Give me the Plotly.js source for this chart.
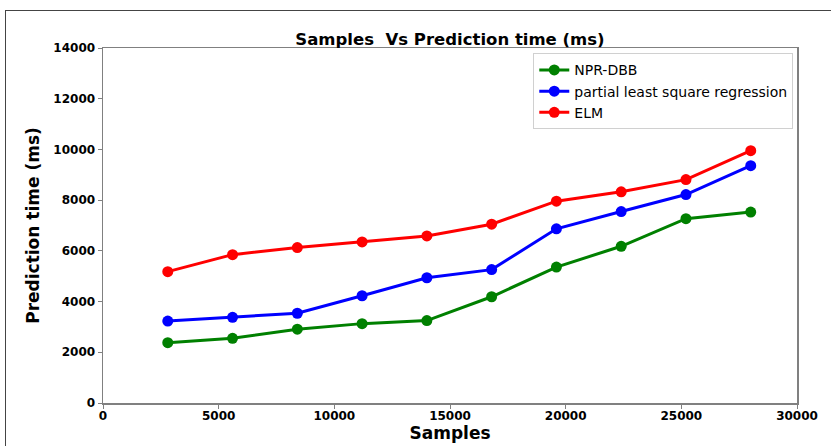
<!DOCTYPE html>
<html>
<head>
<meta charset="utf-8">
<script src="https://cdn.plot.ly/plotly-3.0.1.min.js"></script>
<style>
  html, body { margin: 0; padding: 0; background: #fff; }
  #wrap { position: relative; width: 831px; height: 446px; overflow: hidden; }
  #chart { width: 831px; height: 446px; }
  #frame { position: absolute; left: 5px; top: 10px; width: 900px; height: 600px;
           border: 1px solid #444; pointer-events: none; }
</style>
</head>
<body>
<div id="wrap">
  <div id="chart"></div>
  <div id="frame"></div>
</div>
<script>
const samples = [2800, 5600, 8400, 11200, 14000, 16800, 19600, 22400, 25200, 28000];
const nprDbb = [2380, 2550, 2910, 3130, 3250, 4190, 5360, 6180, 7270, 7530];
const pls = [3230, 3380, 3540, 4230, 4940, 5260, 6870, 7550, 8220, 9360];
const elm = [5180, 5850, 6130, 6350, 6590, 7050, 7960, 8330, 8810, 9950];
const seriesNames = ["NPR-DBB", "partial least square regression", "ELM"];
const xTicks = [0, 5000, 10000, 15000, 20000, 25000, 30000];
const yTicks = [0, 2000, 4000, 6000, 8000, 10000, 12000, 14000];

const colors = ["#008000", "#0000ff", "#ff0000"];
const ys = [nprDbb, pls, elm];
const traces = ys.map((y, i) => ({
  x: samples, y: y, name: seriesNames[i], type: "scatter", mode: "lines+markers",
  line: { color: colors[i], width: 3 },
  marker: { color: colors[i], size: 11 }
}));

const tickFont = { family: "DejaVu Sans", size: 12, color: "#000", weight: "bold" };
const layout = {
  width: 831, height: 446,
  margin: { l: 103, r: 34, t: 48, b: 43 },
  paper_bgcolor: "#fff", plot_bgcolor: "#fff",
  title: { text: "<b>Samples  Vs Prediction time (ms)</b>", x: 0.5, xref: "paper",
           y: 1, yref: "paper", yanchor: "bottom", pad: { b: 3 },
           font: { family: "DejaVu Sans", size: 16.5, color: "#000" } },
  xaxis: {
    range: [0, 30000], tickvals: xTicks, ticktext: xTicks.map(String),
    showgrid: false, zeroline: false, showline: true, mirror: true,
    linecolor: "#808080", linewidth: 1.5, ticks: "outside", ticklen: 4, tickcolor: "#808080",
    ticklabelstandoff: -3,
    tickfont: tickFont,
    title: { text: "<b>Samples</b>", standoff: 3, font: { family: "DejaVu Sans", size: 17, color: "#000" } }
  },
  yaxis: {
    range: [0, 14000], tickvals: yTicks, ticktext: yTicks.map(String),
    showgrid: false, zeroline: false, showline: true, mirror: true,
    linecolor: "#808080", linewidth: 1.5, ticks: "outside", ticklen: 4, tickcolor: "#808080",
    tickfont: tickFont,
    title: { text: "<b>Prediction time (ms)</b>", standoff: 9, font: { family: "DejaVu Sans", size: 17, color: "#000" } }
  },
  legend: {
    x: 0.62, y: 0.985, xanchor: "left", yanchor: "top",
    bgcolor: "#fff", bordercolor: "#d0d0d0", borderwidth: 1,
    font: { family: "DejaVu Sans", size: 14, color: "#000" },
    itemwidth: 30
  },
  showlegend: true
};

Plotly.newPlot("chart", traces, layout, { displayModeBar: false, staticPlot: true });
</script>
</body>
</html>
